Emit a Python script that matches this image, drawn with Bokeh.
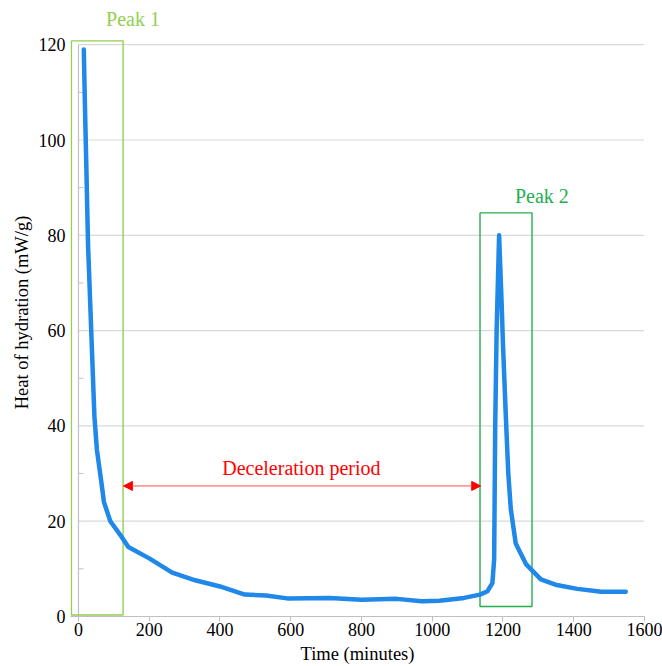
from bokeh.plotting import figure
from bokeh.models import Range1d, FixedTicker, Label, Arrow, NormalHead, ColumnDataSource
from bokeh.embed import file_html
from bokeh.resources import INLINE

# ---- data ----
time_min = [15, 18, 22, 27, 33, 38, 45, 52, 65, 72, 90, 123, 141, 200, 265, 330, 400,
            470, 530, 590, 710, 800, 900, 970, 1020, 1090, 1135, 1156, 1170, 1175, 1178,
            1182, 1189, 1196, 1200, 1208, 1215, 1222, 1236, 1265, 1307, 1352, 1410, 1478, 1547]
heat = [119, 108, 95, 78, 66, 56, 42, 35, 28, 24, 20, 16.6, 14.6, 12.2, 9.2, 7.6, 6.3,
        4.6, 4.4, 3.8, 3.9, 3.5, 3.7, 3.2, 3.3, 3.9, 4.6, 5.3, 7.0, 12, 40,
        60, 80, 66, 57, 42, 30, 22.6, 15.3, 11, 7.8, 6.6, 5.8, 5.2, 5.2]

x_ticks = [0, 200, 400, 600, 800, 1000, 1200, 1400, 1600]
y_ticks = [0, 20, 40, 60, 80, 100, 120]
y_minor = [10, 30, 50, 70, 90, 110]

peak_names = ["Peak 1", "Peak 2"]
peak_left = [-20, 1135]
peak_right = [126, 1282]
peak_bottom = [0.3, 2.1]
peak_top = [120.8, 84.7]
peak_label_x = [154, 1310]
peak_label_y = [125.4, 88.2]
peak_colors = ["#92d050", "#22b04e"]

decel_text = "Deceleration period"
decel_start = 127
decel_end = 1137
decel_y = 27.4
decel_label_x = 630
decel_label_y = 31.2

FONT = "Liberation Serif"

p = figure(width=662, height=666, output_backend="svg", toolbar_location=None,
           x_range=Range1d(-22.6, 1600), y_range=Range1d(0, 127.6),
           min_border_left=70, min_border_right=18, min_border_top=8, min_border_bottom=50)
p.outline_line_color = None
p.xgrid.grid_line_color = None
p.ygrid.grid_line_color = None

# axes
p.xaxis.ticker = FixedTicker(ticks=x_ticks)
p.yaxis.ticker = FixedTicker(ticks=y_ticks)
p.xaxis.axis_label = "Time (minutes)"
p.yaxis.axis_label = "Heat of hydration (mW/g)"
for ax in (p.xaxis, p.yaxis):
    ax.axis_label_text_font = FONT
    ax.axis_label_text_font_size = "18.5px"
    ax.axis_label_text_font_style = "normal"
    ax.axis_label_text_color = "#000000"
    ax.major_label_text_font = FONT
    ax.major_label_text_font_size = "18px"
    ax.major_label_text_color = "#000000"
    ax.minor_tick_line_color = None

p.xaxis.axis_line_color = "#c0c0c0"
p.xaxis.major_tick_line_color = "#c0c0c0"
p.xaxis.major_tick_out = 5
p.xaxis.major_tick_in = 0
p.xaxis.major_label_standoff = 1
p.xaxis.axis_label_standoff = 5

p.yaxis.axis_line_color = None
p.yaxis.major_tick_line_color = None
p.yaxis.major_tick_out = 0
p.yaxis.major_tick_in = 0
p.yaxis.major_label_standoff = 5
p.yaxis.axis_label_standoff = 4

# grid lines from the y tick values, starting at the y axis
p.segment(x0=[0] * len(y_ticks[1:]), y0=y_ticks[1:], x1=[x_ticks[-1]] * len(y_ticks[1:]),
          y1=y_ticks[1:], line_color="#d9d9d9", line_width=1.2)
# y axis line at x = 0 and its minor ticks
p.segment(x0=[0], y0=[y_ticks[0]], x1=[0], y1=[y_ticks[-1]], line_color="#c0c0c0", line_width=1.2)
p.segment(x0=[0] * len(y_minor), y0=y_minor, x1=[14] * len(y_minor), y1=y_minor,
          line_color="#c0c0c0", line_width=1)

# peak boxes
for i in range(2):
    p.quad(left=[peak_left[i]], right=[peak_right[i]], bottom=[peak_bottom[i]], top=[peak_top[i]],
           fill_color=None, line_color=peak_colors[i], line_width=1.4)
    p.add_layout(Label(x=peak_label_x[i], y=peak_label_y[i], text=peak_names[i],
                       text_align="center", text_baseline="middle",
                       text_font=FONT, text_font_size="20px", text_color=peak_colors[i]))

# curve
src = ColumnDataSource(data=dict(t=time_min, h=heat))
p.line("t", "h", source=src, line_width=4.5, line_color="#1f88e8", line_join="round", line_cap="round")

# deceleration arrow
p.add_layout(Arrow(start=NormalHead(size=9, fill_color="#ff0000", line_color="#ff0000"),
                   end=NormalHead(size=9, fill_color="#ff0000", line_color="#ff0000"),
                   x_start=decel_start, y_start=decel_y, x_end=decel_end, y_end=decel_y,
                   line_color="#ff5050", line_width=1))
p.add_layout(Label(x=decel_label_x, y=decel_label_y, text=decel_text, text_align="center",
                   text_baseline="middle", text_font=FONT, text_font_size="20px",
                   text_color="#ff0000"))

open("out.html", "w").write(file_html(p, INLINE))
